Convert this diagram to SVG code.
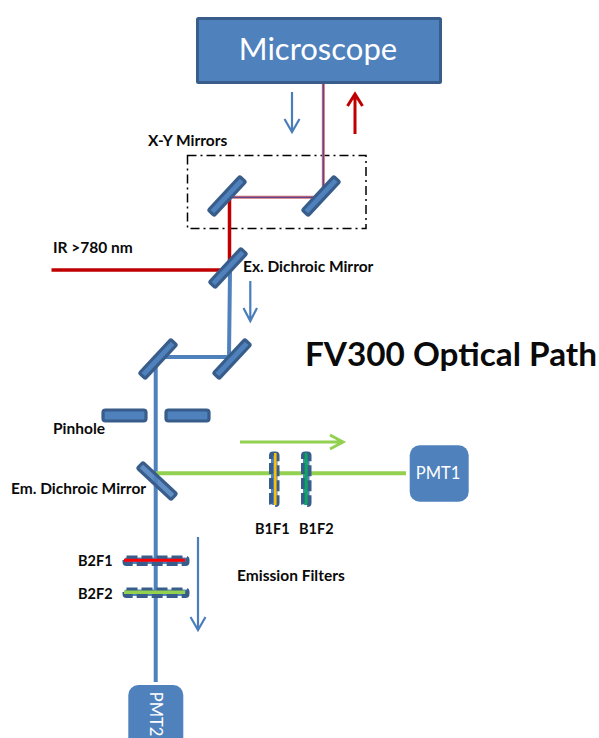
<svg xmlns="http://www.w3.org/2000/svg" width="599" height="738" viewBox="0 0 599 738">
<style>
text{font-family:Lato,"Open Sans",sans-serif}
.l{font-weight:700;font-size:15.500px;fill:#0a0a0a}
.s{font-weight:700;font-size:14.500px;fill:#0a0a0a}
.m{fill:#4f81bd;stroke:#385d8a;stroke-width:3.200}
.f{fill:#4f81bd;stroke:#385d8a;stroke-width:4;stroke-dasharray:11 4}
.b{fill:none;stroke:#4f81bd;stroke-width:4}
.a{fill:none;stroke:#4a7ebb;stroke-width:2.200}
.w{fill:#fff;text-anchor:middle}
</style>
<rect width="599" height="738" fill="#fff"/>
<g id="xy-box"><rect x="187.500" y="155.500" width="178.500" height="73" fill="none" stroke="#000" stroke-width="1.500" stroke-dasharray="9 4 2 4"/></g>
<g id="connectors">
<path class="b" d="M230 270L229 357H155.700V682"/>
<path d="M156 473.300H406" fill="none" stroke="#92d050" stroke-width="4"/>
<path d="M323.300 83V197.300H229.500" fill="none" stroke="#c9707a" stroke-width="3"/>
<path d="M323.300 83V197.300H229.500" fill="none" stroke="#4a3a8c" stroke-width="1"/>
<path d="M229.500 196V270H51.500" fill="none" stroke="#c00000" stroke-width="3.500"/>
<path class="a" d="M292 92V132M284.500 119L292 132L299.500 119"/>
<path d="M355 134V95M347.500 106L355 94L362.500 106" fill="none" stroke="#c00000" stroke-width="3"/>
<path class="a" d="M250.300 281V321M243.500 308L250.300 321L257 308"/>
<path class="a" d="M198 537V629M190.500 617L198 630L205.500 617"/>
<path d="M240 442H342M330 435L343 442L330 449" fill="none" stroke="#92d050" stroke-width="3"/>
</g>
<g id="microscope"><rect x="197.500" y="18.500" width="243" height="64" rx="1" fill="#4f81bd" stroke="#385d8a" stroke-width="3"/><text class="w" x="318" y="60" font-size="31">Microscope</text></g>
<g id="xy-mirror-left"><rect class="m" x="204" y="192" width="46" height="8" rx="1.500" transform="rotate(-47 227 196)"/></g>
<g id="xy-mirror-right"><rect class="m" x="298" y="192" width="46" height="8" rx="1.500" transform="rotate(-47 321 196)"/></g>
<g id="ex-dichroic"><rect class="m" x="205" y="264" width="46" height="8" rx="1.500" transform="rotate(-47 228 268)"/></g>
<g id="relay-mirror-right"><rect class="m" x="209" y="355" width="46" height="8" rx="1.500" transform="rotate(-47 232 359)"/></g>
<g id="relay-mirror-left"><rect class="m" x="135" y="355" width="46" height="8" rx="1.500" transform="rotate(-47 158 359)"/></g>
<g id="pinhole-left"><rect class="m" x="103" y="410" width="43" height="11" rx="2.500"/></g>
<g id="pinhole-right"><rect class="m" x="166" y="410" width="43" height="11" rx="2.500"/></g>
<g id="em-dichroic"><rect class="m" x="134" y="477" width="46" height="8" rx="1.500" transform="rotate(43 157 481)" fill-opacity=".9"/></g>
<g id="b1f1"><rect class="f" x="271" y="453.500" width="6.500" height="51.500" rx="2"/><path d="M275.300 453V505" stroke="#ffc000" stroke-width="2.500"/></g>
<g id="b1f2"><rect class="f" x="303" y="453.500" width="6.500" height="51.500" rx="2"/><path d="M306 453V505" stroke="#00b050" stroke-width="2.500"/></g>
<g id="b2f1"><rect class="f" x="124.500" y="557.500" width="63" height="6.500" rx="2"/><path d="M124 560.300H185" stroke="#f00" stroke-width="3"/></g>
<g id="b2f2"><rect class="f" x="124.500" y="589.500" width="63" height="6.500" rx="2"/><path d="M124 592.300H185" stroke="#92d050" stroke-width="3.500"/></g>
<g id="pmt1"><rect x="409.700" y="445.300" width="59" height="56.400" rx="10" fill="#4f81bd"/><text class="w" x="438" y="479" font-size="16.500">PMT1</text></g>
<g id="pmt2"><path d="M128.300 738V695a10 10 0 0 1 10-10h35a10 10 0 0 1 10 10V738Z" fill="#4f81bd"/><text class="w" transform="translate(150 714) rotate(90)" font-size="16.500">PMT2</text></g>
<g id="labels">
<text class="l" x="148" y="146">X-Y Mirrors</text>
<text class="l" x="53" y="253">IR &gt;780 nm</text>
<text class="l" x="243" y="272">Ex. Dichroic Mirror</text>
<text x="305" y="366" font-weight="700" font-size="33.300" fill="#0a0a0a">FV300 Optical Path</text>
<text class="l" x="53" y="434">Pinhole</text>
<text class="l" x="11" y="494">Em. Dichroic Mirror</text>
<text class="s" x="255" y="534">B1F1</text>
<text class="s" x="299" y="534">B1F2</text>
<text class="s" x="78" y="566">B2F1</text>
<text class="s" x="78" y="599">B2F2</text>
<text class="l" x="237" y="581">Emission Filters</text>
</g>
</svg>
